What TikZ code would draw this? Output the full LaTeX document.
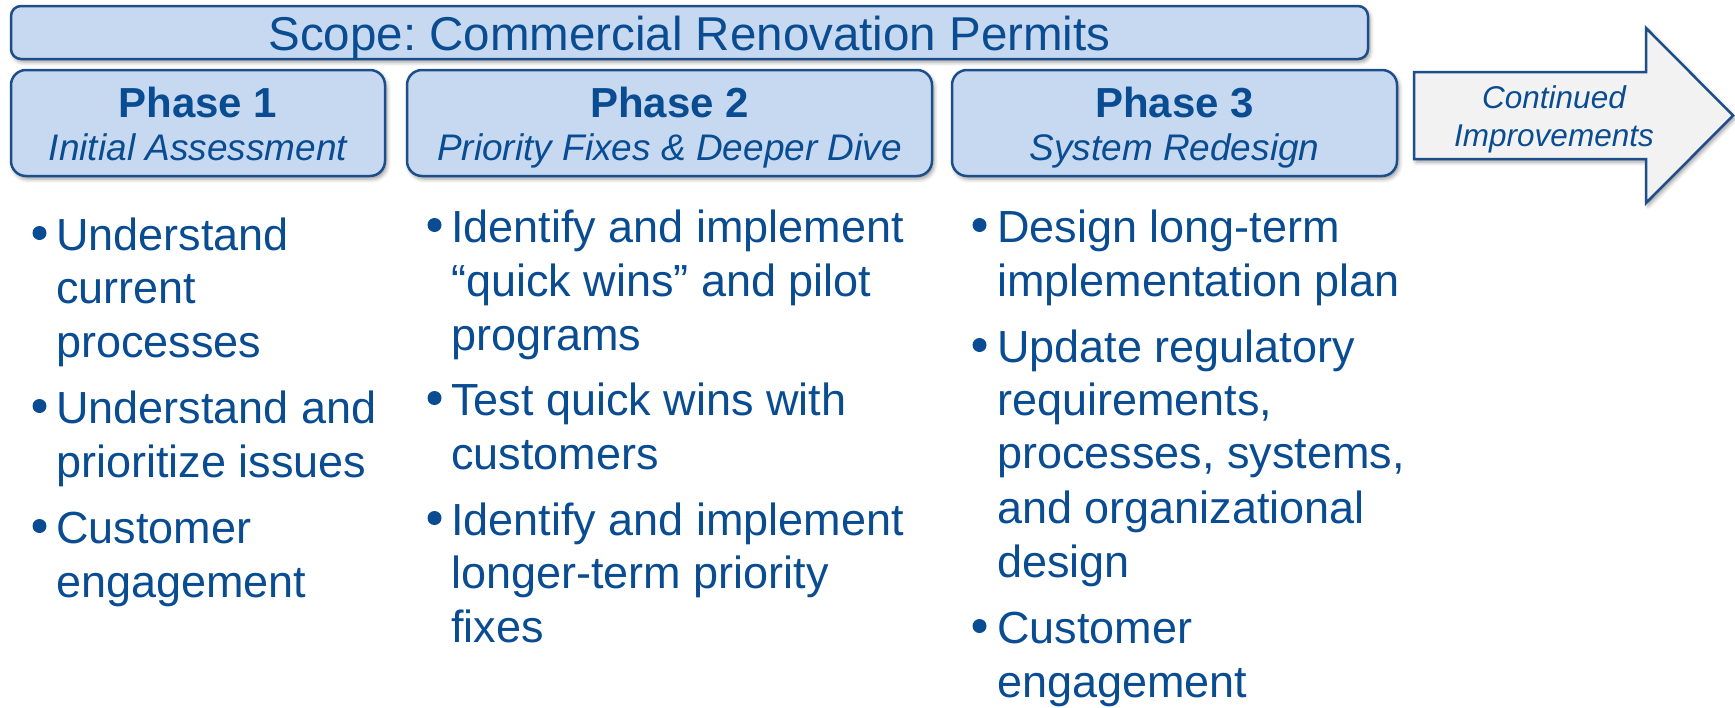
\documentclass[tikz,border=0pt]{standalone}
\usepackage{fontspec}
\setmainfont{Liberation Sans}
\usetikzlibrary{shadows.blur}
\definecolor{boxfill}{RGB}{198,217,241}
\definecolor{edgeblue}{RGB}{30,78,138}
\definecolor{txtblue}{RGB}{10,76,146}
\definecolor{arrowfill}{RGB}{242,242,242}
\frenchspacing
\begin{document}
\begin{tikzpicture}[x=1pt,y=-1pt,
  softshadow/.style={blur shadow={shadow xshift=2pt,shadow yshift=-3pt,shadow blur radius=4pt,shadow opacity=40}},
  panel/.style={draw=edgeblue,line width=2.5pt,fill=boxfill,inner sep=0pt,softshadow},
  phasebox/.style={panel,rounded corners=15pt,minimum height=106pt},
  scopetext/.style={font=\fontsize{47.5}{57}\selectfont,text=txtblue,inner sep=0pt,anchor=base},
  phasetitle/.style={font=\fontsize{42}{50}\selectfont\bfseries,text=txtblue,inner sep=0pt,anchor=base},
  phasesub/.style={font=\fontsize{37}{44}\selectfont\itshape,text=txtblue,inner sep=0pt,anchor=base},
  body/.style={font=\fontsize{45}{54}\selectfont,text=txtblue,inner sep=0pt,anchor=base west},
  dot/.style={circle,fill=txtblue,draw=none,inner sep=0pt,minimum size=14pt},
  arrowtext/.style={font=\fontsize{31.5}{38}\selectfont\itshape,text=txtblue,inner sep=0pt,anchor=base},
]
\useasboundingbox (0,0) rectangle (1735,707);

% scope banner
\node[panel,rounded corners=10pt,minimum width=1357pt,minimum height=53pt] (scope) at (689.5,32.5) {};
\node[scopetext] (scopelabel) at (689.5,50) {Scope: Commercial Renovation Permits};

% phase headers
\node[phasebox,minimum width=374pt] (ph1) at (198,123) {};
\node[phasebox,minimum width=525pt] (ph2) at (669.5,123) {};
\node[phasebox,minimum width=445pt] (ph3) at (1174.5,123) {};
\node[phasetitle] (ph1t) at (198,117) {Phase 1};
\node[phasesub]   (ph1s) at (198,160) {Initial Assessment};
\node[phasetitle] (ph2t) at (669.5,117) {Phase 2};
\node[phasesub]   (ph2s) at (669.5,160) {Priority Fixes \& Deeper Dive};
\node[phasetitle] (ph3t) at (1174.5,117) {Phase 3};
\node[phasesub]   (ph3s) at (1174.5,160) {System Redesign};

% continuation arrow
\draw[draw=edgeblue,line width=2.5pt,fill=arrowfill,line join=miter,softshadow]
  (1414,72) -- (1646,72) -- (1646,28) -- (1733,115.5) -- (1646,203) -- (1646,159) -- (1414,159) -- cycle;
\node[arrowtext] (arr1) at (1554,108) {Continued};
\node[arrowtext] (arr2) at (1554,146) {Improvements};

% phase 1 activities
\foreach \y in {250,423,543} \node[dot] (b1-\y) at (39.5,\y-17) {};
\foreach \t/\y in {Understand/250,current/303,processes/357,Understand and/423,prioritize issues/477,Customer/543,engagement/597}
  \node[body] (c1-\y) at (56,\y) {\t};

% phase 2 activities
\foreach \y in {242,415,535} \node[dot] (b2-\y) at (434.5,\y-17) {};
\foreach \t/\y in {Identify and implement/242,“quick wins” and pilot/296,programs/350,Test quick wins with/415,customers/469,Identify and implement/535,longer-term priority/588,fixes/642}
  \node[body] (c2-\y) at (451,\y) {\t};

% phase 3 activities
\foreach \y in {242,362,643} \node[dot] (b3-\y) at (979.5,\y-17) {};
\foreach \t/\y in {Design long-term/242,implementation plan/296,Update regulatory/362,{requirements,}/415,{processes, systems,}/468,and organizational/523,design/577,Customer/643,engagement/697}
  \node[body] (c3-\y) at (997,\y) {\t};
\end{tikzpicture}
\end{document}
